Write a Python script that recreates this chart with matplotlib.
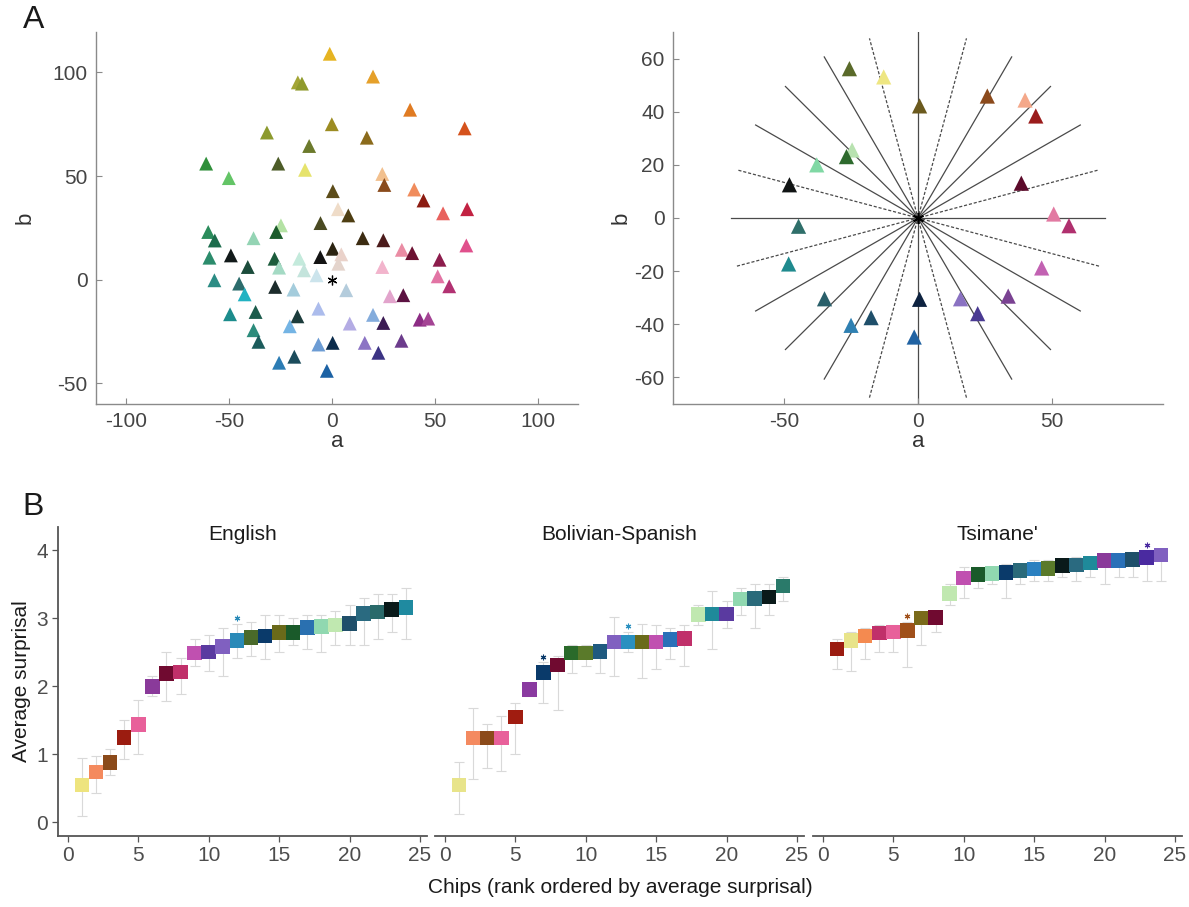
import numpy as np
import matplotlib.pyplot as plt

plt.rcParams['font.family'] = ['Liberation Sans', 'DejaVu Sans']
plt.rcParams['axes.unicode_minus'] = False

# ---- Panel A (left): all chips in the a/b plane ----
chips_a = [-1, 20, -16.5, -14.5, 38, 64.5, -31.5, 0, 17, -11, -61, -50, -26, -13, 24.5, 25.5, 40, 44.5,
           0.5, 3, 8, 54, 65.7, -5.5, -24.7, -27, -60, -56.8, -38, 15, 25, 65.3, 34, 39, 0.4, 4.6,
           -49, -59.4, -27.8, -15.8, -5.6, 52.3, -40.8, -25.6, -13.5, 3.2, 24.5, -7.4, 51.4, -57, -45,
           57, -27.5, 7, -18.6, -42.3, 28.2, 34.7, -6.5, -49.4, -37, -16.7, 20, 42.7, 46.8, 8.7, 25,
           -20.4, -38, -35.6, -6.5, 0.4, 16, 33.8, 22.6, -18.2, -25.6, -2.4]
chips_b = [109, 98, 95.2, 94.6, 82, 73, 71, 75, 68.5, 64.5, 56, 49, 56, 53, 51, 45.7, 43.5, 38.2,
           42.7, 34, 31, 32, 34, 27.3, 26.2, 23, 23, 18.9, 20, 20, 19, 16.5, 14.4, 12.8, 14.9, 12.2,
           11.7, 10.6, 10.1, 10.1, 10.9, 9.6, 6.1, 5.8, 4.5, 7.7, 6.1, 2.1, 1.6, -0.3, -1.9,
           -3.2, -3.5, -5.1, -4.8, -7.1, -8, -7.5, -14, -16.7, -15.6, -17.7, -17, -19.3, -18.8, -21.2, -20.9,
           -22.5, -24.4, -30, -31.3, -30.5, -30.5, -29.5, -35.3, -37.2, -40.1, -44]
chips_col = ['#e6b422', '#e5a02a', '#a3a535', '#8f9a2c', '#e07b22', '#d5521c', '#8c9a2e', '#9c8c22',
             '#8b6b1c', '#6c7a2c', '#2f8f3a', '#63c466', '#4d5c28', '#e6e36c', '#f2c08e', '#8a4b1c',
             '#f08c5c', '#8c1c12', '#5c4c1a', '#efdcc8', '#4e3e12', '#e8625e', '#c22242', '#4a4a22',
             '#b4e2a4', '#1c5c2c', '#2b8c5c', '#1c6c4c', '#94d4b4', '#3c2c12', '#4c1c1c', '#e0508c',
             '#ea8ca4', '#6c1232', '#2c2412', '#ead2ca', '#121a1a', '#2c8c6c', '#1c5c3c', '#c4eadc',
             '#141414', '#8c1c4c', '#1c4c3c', '#a4dac4', '#c4e4dc', '#e4d4cc', '#f2b4cc', '#cce4ec',
             '#e274a4', '#2c8c84', '#2c6c6c', '#b23272', '#1c2c2c', '#b4ccdc', '#a4ccdc', '#22b2c2',
             '#e2a4cc', '#5c1242', '#acbcec', '#1c8c8c', '#1c5c4c', '#1c3c3c', '#84acdc', '#8c2c84',
             '#a44494', '#b4ace4', '#3c1c54', '#74b4e4', '#2c8c7c', '#1c5c5c', '#6c9cd4', '#0c2c4c',
             '#8c74c4', '#6c3c8c', '#3c3484', '#1c4c5c', '#2c7cb4', '#1c62a4']

# ---- Panel A (right): the selected chips with the hue sectors ----
sel_a = [-25.6, -12.8, 0.6, 25.9, 40, 44, -24.6, -26.7, -37.8, -48, 38.6, 50.7, 56.4, -44.6, -48.3,
         46.2, -34.9, 0.6, 15.9, 33.7, 22.3, -17.5, -25, -1.4]
sel_b = [56.2, 53.1, 42.2, 45.9, 44.4, 38.4, 25.6, 23.1, 20, 12.5, 13.1, 1.5, -2.9, -3.1, -17.3,
         -18.8, -30.4, -30.6, -30.4, -29.4, -36, -37.5, -40.4, -44.8]
sel_col = ['#5a6a2a', '#eee682', '#6b5a1e', '#8b4a1c', '#f4a88a', '#9b1c1c', '#b8e2b0', '#2d6a2d',
           '#80d8a4', '#111414', '#5c0a2a', '#e27aa2', '#b0306e', '#2f6f6a', '#1f8a8e', '#c262b2',
           '#2a5f6a', '#0d2240', '#8a72c2', '#7a4292', '#4a3a92', '#1f4f6a', '#2f80b2', '#2062a2']
sector_angles = np.arange(0, 180, 15)
dashed_angles = [15, 75, 105, 165]
ray_len = 70

# ---- Panel B: average surprisal per chip, rank ordered ----
rank = np.arange(1, 25)
eng_mean = [0.55, 0.74, 0.88, 1.25, 1.44, 2.0, 2.19, 2.21, 2.49, 2.5, 2.58, 2.67,
            2.72, 2.74, 2.79, 2.79, 2.86, 2.88, 2.9, 2.92, 3.07, 3.09, 3.13, 3.16]
eng_lo = [0.1, 0.43, 0.7, 0.93, 1.0, 1.85, 1.78, 1.88, 2.3, 2.22, 2.15, 2.42,
          2.45, 2.4, 2.5, 2.6, 2.55, 2.5, 2.6, 2.6, 2.6, 2.7, 2.8, 2.7]
eng_hi = [0.95, 0.97, 1.08, 1.5, 1.8, 2.15, 2.5, 2.42, 2.7, 2.75, 2.85, 2.92,
          2.95, 3.05, 3.05, 3.0, 3.05, 3.05, 3.1, 3.2, 3.3, 3.35, 3.35, 3.45]
eng_col = ['#eee47e', '#f48a5e', '#8b4a1a', '#9b1c10', '#e8609a', '#8a3a9a', '#700a30', '#c0306a',
           '#c050b0', '#5a3aa0', '#8060c0', '#2a8ab8', '#4a6a2a', '#0a3a6a', '#6a6a1a', '#1a5a2a',
           '#2a70b0', '#90d8b0', '#c0e8b0', '#1f4f6a', '#2a6a80', '#2a6a6a', '#0a1a1a', '#1f8aa0']
eng_star = [12]

bol_mean = [0.55, 1.24, 1.24, 1.24, 1.55, 1.95, 2.2, 2.31, 2.49, 2.49, 2.51, 2.65,
            2.65, 2.65, 2.65, 2.69, 2.7, 3.05, 3.06, 3.06, 3.28, 3.29, 3.31, 3.47]
bol_lo = [0.12, 0.63, 0.8, 0.76, 1.0, 1.85, 1.75, 1.65, 2.2, 2.3, 2.2, 2.15,
          2.5, 2.12, 2.25, 2.4, 2.3, 2.9, 2.55, 2.85, 3.05, 2.85, 3.05, 3.25]
bol_hi = [0.88, 1.68, 1.44, 1.57, 1.75, 2.0, 2.35, 2.45, 2.6, 2.6, 2.6, 3.02,
          2.8, 2.92, 2.9, 2.85, 2.9, 3.2, 3.4, 3.25, 3.45, 3.5, 3.5, 3.6]
bol_col = ['#e8e48a', '#f48a60', '#8b4a1a', '#e8609a', '#a01c10', '#8a3aa0', '#0a3a6a', '#700a30',
           '#2a6a2a', '#5a7a2a', '#1f5a80', '#8060c0', '#2a90c0', '#6a6a1a', '#c050b0', '#2a70b8',
           '#c0306a', '#c0e8b0', '#1f8a9a', '#5a3aa0', '#90d8b0', '#2a6a7a', '#0a1a1a', '#2a7a6a']
bol_star = [7, 13]

tsi_mean = [2.55, 2.67, 2.74, 2.78, 2.8, 2.82, 3.0, 3.01, 3.36, 3.59, 3.64, 3.66,
            3.67, 3.7, 3.72, 3.73, 3.77, 3.78, 3.81, 3.85, 3.85, 3.86, 3.89, 3.93]
tsi_lo = [2.25, 2.23, 2.4, 2.5, 2.5, 2.28, 2.6, 2.8, 3.2, 3.3, 3.45, 3.5,
          3.3, 3.5, 3.55, 3.55, 3.6, 3.55, 3.6, 3.5, 3.6, 3.6, 3.55, 3.55]
tsi_hi = [2.7, 2.8, 2.85, 2.9, 2.9, 2.95, 3.1, 3.1, 3.5, 3.75, 3.75, 3.75,
          3.8, 3.8, 3.85, 3.85, 3.85, 3.9, 3.9, 3.95, 3.95, 3.95, 4.0, 4.0]
tsi_col = ['#9b1c10', '#e8e48a', '#f48a50', '#c0306a', '#e8609a', '#a0501a', '#7a6a1a', '#700a30',
           '#c0e8b0', '#c050b0', '#1a5a2a', '#90d8b0', '#0a3a6a', '#2a6a7a', '#2a80c0', '#5a7a2a',
           '#0a1a1a', '#2a6a80', '#1f8a9a', '#8a3a9a', '#2a70b8', '#1f4f6a', '#4a2aa0', '#8060c0']
tsi_star = [6, 23]

fig = plt.figure(figsize=(11.89, 9.07), dpi=100)

a_tick_col = '#444444'


def style_matlab(ax):
    for side in ['top', 'right']:
        ax.spines[side].set_visible(False)
    for side in ['left', 'bottom']:
        ax.spines[side].set_color('#8a8a8a')
        ax.spines[side].set_linewidth(1.0)
    ax.tick_params(direction='in', length=4, width=0.8, color='#8a8a8a',
                   labelsize=15, labelcolor=a_tick_col, pad=6)


# A left
ax1 = fig.add_axes([0.0807, 0.5546, 0.4054, 0.4101])
ax1.scatter(chips_a, chips_b, c=chips_col, marker='^', s=100, linewidths=0, zorder=2)
ax1.plot([0], [0], marker=(6, 2, 0), color='black', markersize=7, mew=0.9, zorder=3)
ax1.set_xlim(-114.5, 119.5)
ax1.set_ylim(-60, 119.5)
ax1.set_xticks([-100, -50, 0, 50, 100])
ax1.set_yticks([-50, 0, 50, 100])
ax1.set_xlabel('a', fontsize=16, color='#333333', labelpad=0)
ax1.set_ylabel('b', fontsize=16, color='#333333', labelpad=12)
style_matlab(ax1)

# A right
ax2 = fig.add_axes([0.566, 0.5546, 0.4121, 0.4101])
for ang in sector_angles:
    t = np.deg2rad(ang)
    ls = (0, (2.5, 1.5)) if ang in dashed_angles else '-'
    ax2.plot([-ray_len * np.cos(t), ray_len * np.cos(t)],
             [-ray_len * np.sin(t), ray_len * np.sin(t)],
             color='#4a4a4a', lw=0.9, ls=ls, zorder=1)
ax2.scatter(sel_a, sel_b, c=sel_col, marker='^', s=120, linewidths=0, zorder=2)
ax2.plot([0], [0], marker=(6, 2, 0), color='black', markersize=8, mew=1.2, zorder=3)
ax2.set_xlim(-91.5, 91.5)
ax2.set_ylim(-70, 70)
ax2.set_xticks([-50, 0, 50])
ax2.set_yticks([-60, -40, -20, 0, 20, 40, 60])
ax2.set_xlabel('a', fontsize=16, color='#333333', labelpad=0)
ax2.set_ylabel('b', fontsize=16, color='#333333', labelpad=2)
style_matlab(ax2)

# B facets
panels = [
    ('English', eng_mean, eng_lo, eng_hi, eng_col, eng_star, 0.0488),
    ('Bolivian-Spanish', bol_mean, bol_lo, bol_hi, bol_col, bol_star, 0.3659),
    ("Tsimane'", tsi_mean, tsi_lo, tsi_hi, tsi_col, tsi_star, 0.6838),
]
for i, (name, mean, lo, hi, col, stars, left) in enumerate(panels):
    ax = fig.add_axes([left, 0.0783, 0.3103, 0.3407])
    mean = np.array(mean)
    err = [mean - np.array(lo), np.array(hi) - mean]
    ax.errorbar(rank, mean, yerr=err, fmt='none', ecolor='#d9d9d9', elinewidth=0.8,
                capsize=3.5, capthick=0.8, zorder=1)
    ax.scatter(rank, mean, c=col, marker='s', s=110, linewidths=0, zorder=3)
    for r in stars:
        ax.plot(r, hi[r - 1] + 0.08, marker=(6, 2, 0), color=col[r - 1],
                markersize=4, mew=0.8, zorder=4)
    ax.set_xlim(-0.7, 25.5)
    ax.set_ylim(-0.2, 4.34)
    ax.set_xticks([0, 5, 10, 15, 20, 25])
    ax.set_yticks([0, 1, 2, 3, 4])
    ax.text(0.5, 0.975, name, transform=ax.transAxes, ha='center', va='center',
            fontsize=15, color='#1a1a1a')
    for side in ['top', 'right']:
        ax.spines[side].set_visible(False)
    ax.spines['bottom'].set_color('#555555')
    ax.spines['bottom'].set_linewidth(1.3)
    ax.tick_params(axis='x', length=4, width=0.9, color='#555555', labelsize=15,
                   labelcolor='#4d4d4d', pad=3)
    if i == 0:
        ax.spines['left'].set_color('#555555')
        ax.spines['left'].set_linewidth(1.3)
        ax.tick_params(axis='y', length=4, width=0.9, color='#555555', labelsize=15,
                       labelcolor='#4d4d4d', pad=3)
        ax.set_ylabel('Average surprisal', fontsize=15, color='#1a1a1a', labelpad=4)
    else:
        ax.spines['left'].set_visible(False)
        ax.tick_params(axis='y', left=False, labelleft=False)

fig.text(0.522, 0.022, 'Chips (rank ordered by average surprisal)', ha='center', va='center',
         fontsize=15, color='#1a1a1a')

fig.text(0.019, 0.978, 'A', fontsize=23, color='#1a1a1a', ha='left', va='center')
fig.text(0.019, 0.441, 'B', fontsize=23, color='#1a1a1a', ha='left', va='center')

fig.savefig('out.png', dpi=100)
